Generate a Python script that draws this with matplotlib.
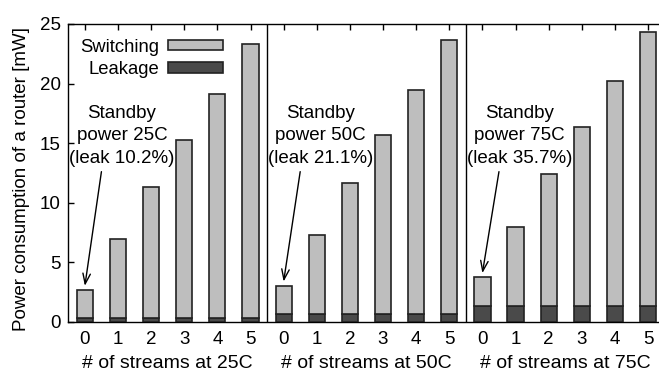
import numpy as np
import matplotlib.pyplot as plt
from matplotlib.patches import Patch

plt.rcParams['font.family'] = ['Liberation Sans', 'DejaVu Sans']
plt.rcParams['font.size'] = 13

temps = ["25C", "50C", "75C"]
streams = [0, 1, 2, 3, 4, 5]

# total router power per stream count [mW]
total_25 = [2.66, 6.92, 11.31, 15.28, 19.09, 23.29]
total_50 = [3.02, 7.31, 11.67, 15.65, 19.48, 23.63]
total_75 = [3.73, 7.98, 12.40, 16.35, 20.18, 24.30]
leak = [0.28, 0.67, 1.34]
leak_pct = [10.2, 21.1, 35.7]

totals = [total_25, total_50, total_75]

sw_color = '#bebebe'
lk_color = '#4a4a4a'
edge = '#222222'

fig = plt.figure(figsize=(6.59, 3.74), dpi=100)
ax = fig.add_axes([68.3/659, 1-321.7/374, (664.6-68.3)/659, (321.7-24)/374])

n = len(streams)
for g, tot in enumerate(totals):
    x = np.arange(n) + g*n
    lk = np.full(n, leak[g])
    ax.bar(x, lk, width=0.49, color=lk_color, edgecolor=edge, linewidth=1.2, zorder=3)
    ax.bar(x, np.array(tot) - lk, bottom=lk, width=0.49, color=sw_color,
           edgecolor=edge, linewidth=1.2, zorder=3)
    if g > 0:
        ax.axvline(g*n - 0.5, color='black', linewidth=1.0)
    # standby annotation pointing at the idle bar
    ax.text(g*n + 1.12, 15.6, "Standby\npower %s\n(leak %.1f%%)" % (temps[g], leak_pct[g]),
            ha='center', va='center', fontsize=13.5, linespacing=1.4)
    ax.annotate("", xy=(g*n, tot[0] + 0.35), xytext=(g*n + 0.5, 12.6),
                arrowprops=dict(arrowstyle='->,head_length=0.55,head_width=0.2',
                                color='black', lw=1.0, shrinkA=0, shrinkB=0,
                                mutation_scale=13.5))
    ax.text(g*n + 2.5, -0.140, "# of streams at %s" % temps[g],
            transform=ax.get_xaxis_transform(), ha='center', va='center', fontsize=14)

ax.set_xlim(-0.5, 3*n - 0.5)
ax.set_ylim(0, 25)
ax.set_xticks(np.arange(3*n))
ax.set_xticklabels([str(s) for s in streams]*3)
ax.set_yticks([0, 5, 10, 15, 20, 25])
ax.tick_params(direction='in', top=True, right=True, length=4.5, width=1.0, labelsize=13.5)
ax.tick_params(axis='x', pad=6.5)
ax.tick_params(axis='y', pad=5.5)
for s in ax.spines.values():
    s.set_linewidth(1.0)
ax.set_ylabel("Power consumption of a router [mW]", fontsize=13.5)
ax.yaxis.set_label_coords(-0.064, 0.48)

handles = [Patch(facecolor=sw_color, edgecolor=edge, linewidth=1.2),
           Patch(facecolor=lk_color, edgecolor=edge, linewidth=1.2)]
ax.legend(handles, ["Switching", "Leakage"], loc='upper right', frameon=False,
          markerfirst=False, handlelength=2.97, handleheight=0.5, fontsize=13.3,
          handletextpad=0.5, labelspacing=0.3, borderpad=0, borderaxespad=0,
          bbox_to_anchor=((223 - 68.3)/596.3, 1 - (38.5 - 24)/297.7))

fig.savefig("out.png", dpi=100)
